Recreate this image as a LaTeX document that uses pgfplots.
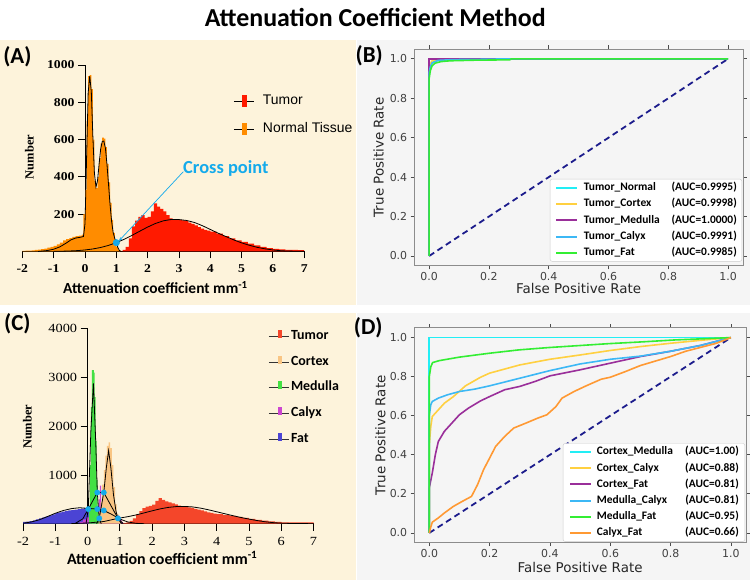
\documentclass[border=0pt]{standalone}
\usepackage{pgfplots}
\pgfplotsset{compat=1.18}
\usetikzlibrary{arrows.meta}
\usepackage{fontspec}
\setmainfont{Carlito}
\newfontfamily\serifw[FakeStretch=1.15]{Liberation Serif}
\newfontfamily\serifn{Liberation Serif}
\newfontfamily\lsans{Liberation Sans}
\newfontfamily\dvs{DejaVu Sans}

\definecolor{beige}{HTML}{FDF3DB}
\definecolor{panelgray}{HTML}{F5F5F5}
\definecolor{normorange}{HTML}{FF8C00}
\definecolor{tumred}{HTML}{FF1A00}
\definecolor{crossblue}{HTML}{14AAEB}
\definecolor{fatblue}{HTML}{4B44D4}
\definecolor{medgreen}{HTML}{44E044}
\definecolor{cortexor}{HTML}{F9C583}
\definecolor{calyxmag}{HTML}{CC46D0}
\definecolor{tumorC}{HTML}{F4462A}
\definecolor{rcyan}{HTML}{22EEF5}
\definecolor{rgold}{HTML}{FFD040}
\definecolor{rpurple}{HTML}{9A2F9A}
\definecolor{rblue}{HTML}{3CB8F5}
\definecolor{rgreen}{HTML}{33EE33}
\definecolor{rorange}{HTML}{FF9933}
\definecolor{navyd}{HTML}{1C1C8C}

\begin{document}
\begin{tikzpicture}[x=1bp,y=1bp]
\path[fill=white] (0,0) rectangle (750,580);
\fill[beige] (0,275) rectangle (356,540);
\fill[beige] (0,0) rectangle (356,267);
\fill[panelgray] (357,275) rectangle (750,540);
\fill[panelgray] (357,0) rectangle (750,267);
\node[font=\bfseries\fontsize{26}{30}\selectfont] at (375,562) {Attenuation Coefficient Method};
\node[font=\bfseries\fontsize{23}{26}\selectfont] at (17,523) {(A)};
\node[font=\bfseries\fontsize{23}{26}\selectfont] at (369,524) {(B)};
\node[font=\bfseries\fontsize{23}{26}\selectfont] at (17,256) {(C)};
\node[font=\bfseries\fontsize{23}{26}\selectfont] at (368,252) {(D)};

% ---------------- Panel A ----------------
\begin{axis}[
  at={(22bp,328.4bp)}, anchor=south west, scale only axis,
  width=282bp, height=186.6bp,
  xmin=-2, xmax=7, ymin=0, ymax=1000,
  axis x line=bottom, axis y line=middle, hide obscured x ticks=false,
  axis line style={-, black, line width=0.9bp},
  tick align=outside, major tick length=7bp, tick style={black, line width=0.9bp},
  xtick={-2,-1,0,1,2,3,4,5,6,7}, xticklabels={-2,-1,0,1,2,3,4,5,6,7},
  ytick={200,400,600,800,1000}, yticklabels={200,400,600,800,1000},
  ticklabel style={font=\serifw\bfseries\fontsize{12}{14}\selectfont},
  xticklabel style={yshift=-3bp},
  xlabel={Attenuation coefficient mm\textsuperscript{-1}},
  xlabel style={at={(axis description cs:0.472,-0.195)}, anchor=center, font=\bfseries\fontsize{15.5}{18}\selectfont},
  ylabel={Number},
  ylabel style={at={(axis description cs:0.025,0.507)}, anchor=center, rotate=90, font=\serifn\bfseries\fontsize{12.5}{14}\selectfont},
  legend style={at={(axis description cs:0.748,0.842)}, anchor=north west, draw=none, fill=none,
    font=\lsans\fontsize{14}{16}\selectfont, inner sep=0pt, row sep=15bp,
    nodes={inner sep=0pt, text height=10bp, text depth=3bp}},
  legend cell align=left,
]
% Normal tissue histogram
\addplot[const plot, fill=normorange, draw=none, forget plot] coordinates {
(-2.0,3) (-1.9,4) (-1.8,5) (-1.7,6) (-1.6,8) (-1.5,10) (-1.4,12) (-1.3,15) (-1.2,20) (-1.1,25)
(-1.0,30) (-0.9,38) (-0.8,48) (-0.7,60) (-0.6,66) (-0.5,72) (-0.4,78) (-0.3,82) (-0.2,85) (-0.1,90)
(-0.05,200) (0.00,330) (0.05,700) (0.10,940) (0.15,945) (0.20,870) (0.25,600) (0.30,380) (0.35,340)
(0.40,400) (0.45,500) (0.50,580) (0.55,610) (0.60,605) (0.65,560) (0.70,470) (0.75,370) (0.80,260)
(0.85,170) (0.90,100) (0.95,50) (1.00,25) (1.05,10) (1.10,4) (1.15,0)} \closedcycle;
% Tumor histogram
\addplot[const plot, fill=tumred, draw=none, forget plot] coordinates {
(1.1,0) (1.2,8) (1.3,25) (1.4,70) (1.5,135) (1.6,165) (1.7,185) (1.8,195) (1.9,180) (2.0,185)
(2.1,215) (2.2,258) (2.3,240) (2.4,228) (2.5,215) (2.6,195) (2.7,178) (2.8,172) (2.9,173) (3.0,170)
(3.1,167) (3.2,162) (3.3,155) (3.4,148) (3.5,140) (3.6,130) (3.7,122) (3.8,116) (3.9,112) (4.0,107)
(4.2,95) (4.4,82) (4.6,70) (4.8,60) (5.0,52) (5.2,42) (5.4,32) (5.6,24) (5.8,18) (6.0,14)
(6.2,11) (6.4,9) (6.6,8) (6.8,7) (7.0,7)} \closedcycle;
% Normal fit
\addplot[black, line width=0.8bp, forget plot] coordinates {
(-1.5,0) (-1.2,5) (-1.0,12) (-0.8,25) (-0.6,45) (-0.45,62) (-0.3,72) (-0.15,76) (-0.05,80) (0.0,150)
(0.05,500) (0.1,850) (0.15,940) (0.2,860) (0.25,620) (0.3,420) (0.35,345) (0.4,380) (0.45,470)
(0.5,550) (0.55,590) (0.6,592) (0.65,555) (0.7,470) (0.75,360) (0.8,250) (0.85,160) (0.9,100)
(0.95,70) (1.0,47) (1.05,20) (1.1,5) (1.15,0)};
% Tumor fit
\addplot[black, line width=0.8bp, forget plot] coordinates {
(-1.0,0.6) (-0.75,1.3) (-0.5,2.5) (-0.25,4.5) (0,8) (0.25,13.4) (0.5,21.3) (0.75,32.5) (1.0,47.2)
(1.25,65.3) (1.5,86.3) (1.75,108.8) (2.0,130.9) (2.25,150.1) (2.5,164.2) (2.75,171.4) (3.0,171)
(3.25,166) (3.5,155) (3.75,138) (4.0,118) (4.25,98) (4.5,80) (4.75,62) (5.0,46) (5.25,33)
(5.5,22) (5.75,14) (6.0,8) (6.25,4) (6.5,2) (7.0,0.5)};
% Cross point
\addplot[only marks, mark=*, mark size=3.3bp, color=crossblue, forget plot] coordinates {(1.0,47)};
\draw[crossblue, line width=0.7bp, -{Stealth[length=4bp,width=3bp]}] (axis cs:3.14,428) -- (axis cs:1.08,56);
\node[anchor=west, text=crossblue, font=\bfseries\fontsize{18.5}{20}\selectfont, inner sep=0pt] at (axis cs:3.13,443) {Cross point};
\addlegendimage{legend image code/.code={\draw[black,line width=0.8bp] (0bp,0bp)--(20bp,0bp); \fill[tumred] (8bp,-5.5bp) rectangle (12bp,5.5bp); \path (29bp,0bp);}}
\addlegendentry{Tumor}
\addlegendimage{legend image code/.code={\draw[black,line width=0.8bp] (0bp,0bp)--(20bp,0bp); \fill[normorange] (8bp,-5.5bp) rectangle (12bp,5.5bp); \path (29bp,0bp);}}
\addlegendentry{Normal Tissue}
\end{axis}

% ---------------- Panel C ----------------
\begin{axis}[
  at={(22.7bp,56bp)}, anchor=south west, scale only axis,
  width=290.6bp, height=195bp,
  xmin=-2, xmax=7, ymin=0, ymax=4000,
  axis x line=bottom, axis y line=middle, hide obscured x ticks=false,
  axis line style={-, black, line width=0.9bp},
  tick align=outside, major tick length=7bp, tick style={black, line width=0.9bp},
  xtick={-2,-1,0,1,2,3,4,5,6,7}, xticklabels={-2,-1,0,1,2,3,4,5,6,7},
  ytick={1000,2000,3000,4000}, yticklabels={1000,2000,3000,4000},
  ticklabel style={font=\serifw\fontsize{12.5}{14}\selectfont},
  xticklabel style={yshift=-3bp},
  xlabel={Attenuation coefficient mm\textsuperscript{-1}},
  xlabel style={at={(axis description cs:0.479,-0.174)}, anchor=center, font=\bfseries\fontsize{16}{18}\selectfont},
  ylabel={Number},
  ylabel style={at={(axis description cs:0.015,0.497)}, anchor=center, rotate=90, font=\serifn\bfseries\fontsize{12.5}{14}\selectfont},
  legend style={at={(axis description cs:0.844,0.995)}, anchor=north west, draw=none, fill=none,
    font=\bfseries\fontsize{14}{16}\selectfont, inner sep=0pt, row sep=13.2bp,
    nodes={inner sep=0pt, text height=9.5bp, text depth=3bp}},
  legend cell align=left,
]
% Fat
\addplot[const plot, fill=fatblue, draw=none, forget plot] coordinates {
(-2.0,40) (-1.9,45) (-1.8,55) (-1.7,70) (-1.6,90) (-1.5,110) (-1.4,130) (-1.3,150) (-1.2,170) (-1.1,190)
(-1.0,215) (-0.9,235) (-0.8,250) (-0.7,262) (-0.6,272) (-0.5,280) (-0.4,290) (-0.3,300) (-0.2,310)
(-0.1,320) (0.0,300) (0.1,250) (0.2,150) (0.3,0)} \closedcycle;
% Tumor
\addplot[const plot, fill=tumorC, draw=none, forget plot] coordinates {
(1.1,10) (1.2,30) (1.3,60) (1.4,110) (1.5,190) (1.6,260) (1.7,320) (1.8,350) (1.9,365) (2.0,390)
(2.1,470) (2.2,525) (2.3,490) (2.4,460) (2.5,440) (2.6,415) (2.7,395) (2.8,370) (2.9,355) (3.0,345)
(3.1,335) (3.2,325) (3.3,305) (3.4,290) (3.5,272) (3.6,255) (3.7,235) (3.8,220) (3.9,205) (4.0,195)
(4.2,178) (4.4,160) (4.6,138) (4.8,118) (5.0,98) (5.2,80) (5.4,63) (5.6,48) (5.8,36) (6.0,30)
(6.2,28) (6.6,27) (7.0,27)} \closedcycle;
% Calyx
\addplot[const plot, fill=calyxmag, draw=none, forget plot] coordinates {
(-0.25,40) (-0.15,90) (-0.05,130) (0.05,180) (0.15,250) (0.25,350) (0.35,500) (0.38,780) (0.42,450)
(0.5,380) (0.6,330) (0.7,280) (0.8,230) (0.9,180) (0.95,160) (1.0,100) (1.05,40) (1.1,0)} \closedcycle;
% Cortex
\addplot[const plot, fill=cortexor, draw=none, forget plot] coordinates {
(0.25,120) (0.3,200) (0.35,250) (0.4,450) (0.45,800) (0.5,1100) (0.55,1400) (0.6,1600) (0.65,1670)
(0.7,1550) (0.75,1200) (0.8,750) (0.85,400) (0.9,200) (0.95,100) (1.0,50) (1.05,0)} \closedcycle;
% Medulla
\addplot[const plot, fill=medgreen, draw=none, forget plot] coordinates {
(0.04,300) (0.07,1200) (0.10,2400) (0.13,3150) (0.16,3150) (0.19,3100) (0.22,2600) (0.25,1700)
(0.28,900) (0.31,350) (0.34,0)} \closedcycle;
% fits
\addplot[black, line width=0.8bp, forget plot] coordinates {
(-2.0,10) (-1.75,35) (-1.5,80) (-1.25,145) (-1.0,215) (-0.75,272) (-0.5,310) (-0.25,328) (0.0,315)
(0.3,300) (0.5,272) (0.75,190) (1.0,95) (1.25,35) (1.5,8) (1.75,0)};
\addplot[black, line width=0.8bp, forget plot] coordinates {
(-0.05,0) (0.02,300) (0.1,1900) (0.18,2880) (0.25,1700) (0.3,640) (0.36,110) (0.42,0)};
\addplot[black, line width=0.8bp, forget plot] coordinates {
(0.28,0) (0.36,110) (0.5,640) (0.58,1150) (0.65,1500) (0.72,1150) (0.8,600) (0.88,250) (0.94,110) (1.05,0)};
\addplot[black, line width=0.8bp, forget plot] coordinates {
(-0.4,0) (-0.15,100) (0.02,300) (0.3,640) (0.5,640) (0.94,110) (1.1,0)};
\addplot[black, line width=0.8bp, forget plot] coordinates {
(-0.5,3) (0,15) (0.5,45) (0.94,110) (1.25,145) (1.5,180) (1.75,222) (2.0,265) (2.25,305) (2.5,335)
(2.75,352) (3.0,355) (3.25,345) (3.5,320) (3.75,285) (4.0,245) (4.25,205) (4.5,165) (4.75,128)
(5.0,95) (5.25,65) (5.5,40) (5.75,22) (6.0,12) (6.25,6) (6.5,3) (7.0,0.5)};
\addplot[only marks, mark=*, mark size=2.7bp, color=crossblue, forget plot] coordinates {
(0.02,300) (0.3,640) (0.5,640) (0.3,300) (0.5,272) (0.36,110) (0.94,110)};
\addlegendimage{legend image code/.code={\draw[black!80,line width=0.8bp] (0bp,0bp)--(20bp,0bp); \fill[tumorC] (9bp,-1bp) rectangle (12bp,6bp); \path (22bp,0bp);}}
\addlegendentry{Tumor}
\addlegendimage{legend image code/.code={\draw[black!80,line width=0.8bp] (0bp,0bp)--(20bp,0bp); \fill[cortexor] (9bp,-1bp) rectangle (12bp,6bp); \path (22bp,0bp);}}
\addlegendentry{Cortex}
\addlegendimage{legend image code/.code={\draw[black!80,line width=0.8bp] (0bp,0bp)--(20bp,0bp); \fill[medgreen] (9bp,-1bp) rectangle (12bp,6bp); \path (22bp,0bp);}}
\addlegendentry{Medulla}
\addlegendimage{legend image code/.code={\draw[black!80,line width=0.8bp] (0bp,0bp)--(20bp,0bp); \fill[calyxmag] (9bp,-1bp) rectangle (12bp,6bp); \path (22bp,0bp);}}
\addlegendentry{Calyx}
\addlegendimage{legend image code/.code={\draw[black!80,line width=0.8bp] (0bp,0bp)--(20bp,0bp); \fill[fatblue] (9bp,-1bp) rectangle (12bp,6bp); \path (22bp,0bp);}}
\addlegendentry{Fat}
\end{axis}

% ---------------- Panel B ----------------
\begin{axis}[
  at={(414bp,314bp)}, anchor=south west, scale only axis,
  width=329bp, height=217bp,
  xmin=-0.05, xmax=1.05, ymin=-0.05, ymax=1.05,
  axis line style={draw=black!45, line width=0.8bp},
  tick align=outside, major tick length=3.5bp, tick style={black!70, line width=0.8bp},
  xtick={0,0.2,0.4,0.6,0.8,1.0}, xticklabels={0.0,0.2,0.4,0.6,0.8,1.0},
  ytick={0,0.2,0.4,0.6,0.8,1.0}, yticklabels={0.0,0.2,0.4,0.6,0.8,1.0},
  ticklabel style={font=\dvs\fontsize{11}{13}\selectfont, text=black!75},
  xlabel={False Positive Rate}, ylabel={True Positive Rate},
  label style={font=\dvs\fontsize{13.5}{16}\selectfont, text=black!85},
  xlabel style={at={(axis description cs:0.5,-0.106)}, anchor=center},
  ylabel style={at={(axis description cs:-0.108,0.5)}, anchor=center},
  legend style={at={(axis description cs:0.997,0.02)}, anchor=south east, draw=black!20, fill=white,
    rounded corners=2bp, inner xsep=5bp, inner ysep=3bp, row sep=5.3bp,
    font=\bfseries\fontsize{11.5}{13}\selectfont,
    nodes={inner sep=0pt, text height=8.5bp, text depth=2.5bp}},
  legend cell align=left,
  legend image code/.code={\draw[#1, line width=2bp] (0bp,0bp) -- (21bp,0bp); \path (27bp,0bp);},
]
\addplot[navyd, dashed, dash pattern=on 6bp off 4bp, line width=1.8bp, forget plot] coordinates {(0,0) (1,1)};
\addplot[rcyan, line width=1.6bp] coordinates {(0,0) (0,0.92) (0.003,0.95) (0.008,0.975) (0.02,0.99) (0.05,0.995) (0.1,0.998) (0.2,1) (1,1)};
\addlegendentry{\makebox[153bp][l]{Tumor\_Normal\hfill(AUC=0.9995)}}
\addplot[rgold, line width=1.6bp] coordinates {(0,0) (0,0.95) (0.004,0.975) (0.01,0.99) (0.03,0.997) (0.06,1) (1,1)};
\addlegendentry{\makebox[153bp][l]{Tumor\_Cortex\hfill(AUC=0.9998)}}
\addplot[rpurple, line width=1.6bp] coordinates {(0,0) (0,1) (1,1)};
\addlegendentry{\makebox[153bp][l]{Tumor\_Medulla\hfill(AUC=1.0000)}}
\addplot[rblue, line width=1.6bp] coordinates {(0,0) (0,0.93) (0.004,0.96) (0.01,0.98) (0.03,0.992) (0.08,0.996) (0.15,0.997) (0.27,1) (1,1)};
\addlegendentry{\makebox[153bp][l]{Tumor\_Calyx\hfill(AUC=0.9991)}}
\addplot[rgreen, line width=1.6bp] coordinates {(0,0) (0,0.9) (0.004,0.94) (0.01,0.965) (0.02,0.978) (0.04,0.986) (0.07,0.99) (0.15,0.993) (0.27,0.995) (0.275,1) (1,1)};
\addlegendentry{\makebox[153bp][l]{Tumor\_Fat\hfill(AUC=0.9985)}}
\end{axis}

% ---------------- Panel D ----------------
\begin{axis}[
  at={(414bp,37bp)}, anchor=south west, scale only axis,
  width=332bp, height=215bp,
  xmin=-0.05, xmax=1.05, ymin=-0.05, ymax=1.05,
  axis line style={draw=black!45, line width=0.8bp},
  tick align=outside, major tick length=3.5bp, tick style={black!70, line width=0.8bp},
  xtick={0,0.2,0.4,0.6,0.8,1.0}, xticklabels={0.0,0.2,0.4,0.6,0.8,1.0},
  ytick={0,0.2,0.4,0.6,0.8,1.0}, yticklabels={0.0,0.2,0.4,0.6,0.8,1.0},
  ticklabel style={font=\dvs\fontsize{11}{13}\selectfont, text=black!75},
  xlabel={False Positive Rate}, ylabel={True Positive Rate},
  label style={font=\dvs\fontsize{13.5}{16}\selectfont, text=black!85},
  xlabel style={at={(axis description cs:0.5,-0.116)}, anchor=center},
  ylabel style={at={(axis description cs:-0.102,0.5)}, anchor=center},
  legend style={at={(axis description cs:0.997,0.005)}, anchor=south east, draw=black!20, fill=white,
    rounded corners=2bp, inner xsep=6bp, inner ysep=3bp, row sep=5.2bp,
    font=\bfseries\fontsize{11.5}{13}\selectfont,
    nodes={inner sep=0pt, text height=8.5bp, text depth=2.5bp}},
  legend cell align=left,
  legend image code/.code={\draw[#1, line width=2bp] (0bp,0bp) -- (21bp,0bp); \path (26bp,0bp);},
]
\addplot[navyd, dashed, dash pattern=on 6bp off 4bp, line width=1.8bp, forget plot] coordinates {(0,0) (1,1)};
\addplot[rcyan, line width=1.6bp] coordinates {(0,0) (0,1) (1,1)};
\addlegendentry{\makebox[142bp][l]{Cortex\_Medulla\hfill(AUC=1.00)}}
\addplot[rgold, line width=1.6bp] coordinates {(0,0) (0,0.45) (0.005,0.545) (0.01,0.596) (0.03,0.63) (0.05,0.664) (0.08,0.698) (0.12,0.753) (0.17,0.797) (0.2,0.818) (0.3,0.86) (0.4,0.889) (0.5,0.911) (0.6,0.934) (0.7,0.954) (0.8,0.971) (0.9,0.986) (1,1)};
\addlegendentry{\makebox[142bp][l]{Cortex\_Calyx\hfill(AUC=0.88)}}
\addplot[rpurple, line width=1.6bp] coordinates {(0,0) (0,0.23) (0.01,0.307) (0.02,0.4) (0.03,0.468) (0.05,0.52) (0.08,0.571) (0.1,0.605) (0.13,0.639) (0.17,0.676) (0.2,0.698) (0.25,0.733) (0.3,0.75) (0.35,0.775) (0.4,0.804) (0.5,0.835) (0.6,0.869) (0.7,0.903) (0.8,0.93) (0.9,0.96) (1,1)};
\addlegendentry{\makebox[142bp][l]{Cortex\_Fat\hfill(AUC=0.81)}}
\addplot[rblue, line width=1.6bp] coordinates {(0,0) (0,0.6) (0.005,0.656) (0.01,0.673) (0.03,0.69) (0.06,0.707) (0.1,0.724) (0.15,0.736) (0.2,0.753) (0.3,0.792) (0.4,0.831) (0.5,0.865) (0.6,0.889) (0.7,0.905) (0.8,0.93) (0.9,0.96) (1,1)};
\addlegendentry{\makebox[142bp][l]{Medulla\_Calyx\hfill(AUC=0.81)}}
\addplot[rgreen, line width=1.6bp] coordinates {(0,0) (0,0.8) (0.005,0.85) (0.011,0.872) (0.033,0.882) (0.1,0.9) (0.2,0.92) (0.297,0.937) (0.396,0.949) (0.496,0.959) (0.595,0.969) (0.705,0.978) (0.815,0.988) (0.925,0.995) (1,1)};
\addlegendentry{\makebox[142bp][l]{Medulla\_Fat\hfill(AUC=0.95)}}
\addplot[rorange, line width=1.6bp] coordinates {(0,0) (0.005,0.03) (0.01,0.055) (0.03,0.077) (0.05,0.102) (0.08,0.136) (0.11,0.162) (0.14,0.187) (0.16,0.247) (0.18,0.324) (0.2,0.383) (0.22,0.443) (0.25,0.494) (0.28,0.537) (0.32,0.562) (0.36,0.588) (0.39,0.605) (0.42,0.647) (0.44,0.69) (0.48,0.724) (0.52,0.753) (0.57,0.787) (0.6,0.797) (0.65,0.826) (0.7,0.857) (0.75,0.88) (0.8,0.903) (0.85,0.93) (0.9,0.95) (0.95,0.97) (1,1)};
\addlegendentry{\makebox[142bp][l]{Calyx\_Fat\hfill(AUC=0.66)}}
\end{axis}
\end{tikzpicture}
\end{document}
